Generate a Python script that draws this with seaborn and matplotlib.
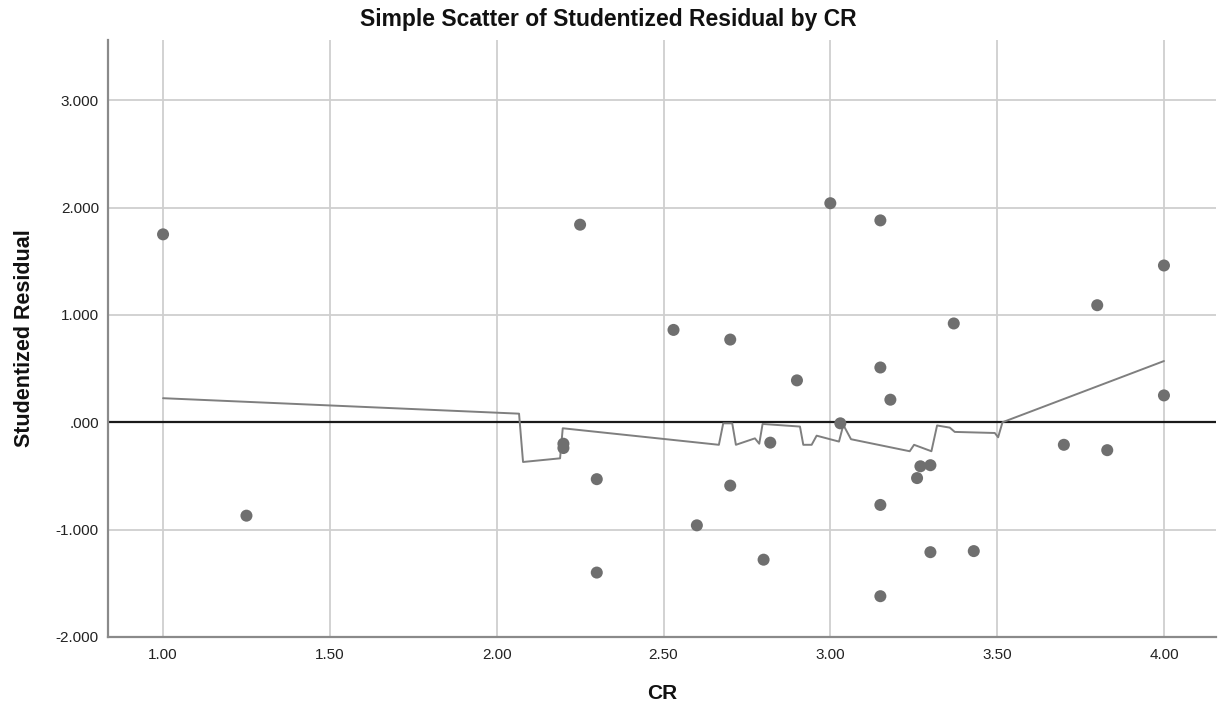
import matplotlib
matplotlib.use("Agg")
import matplotlib.pyplot as plt
import seaborn as sns
import pandas as pd

# Observations: CR score against studentized residual
cr = [1.00, 1.25, 2.20, 2.20, 2.25, 2.30, 2.30, 2.53, 2.60, 2.70, 2.70,
      2.80, 2.82, 2.90, 3.00, 3.03, 3.15, 3.15, 3.15, 3.15, 3.18, 3.26,
      3.27, 3.30, 3.30, 3.37, 3.43, 3.70, 3.80, 3.83, 4.00, 4.00]
resid = [1.75, -0.87, -0.20, -0.24, 1.84, -0.53, -1.40, 0.86, -0.96, 0.77, -0.59,
         -1.28, -0.19, 0.39, 2.04, -0.01, 1.88, 0.51, -0.77, -1.62, 0.21, -0.52,
         -0.41, -0.40, -1.21, 0.92, -1.20, -0.21, 1.09, -0.26, 1.46, 0.25]

# Fit line through the residuals
fit_x = [1.000, 2.067, 2.079, 2.190, 2.198, 2.666, 2.679, 2.706, 2.717, 2.774,
         2.787, 2.797, 2.909, 2.919, 2.944, 2.959, 3.026, 3.039, 3.062, 3.238,
         3.251, 3.303, 3.320, 3.358, 3.373, 3.493, 3.503, 3.516, 4.000]
fit_y = [0.224, 0.080, -0.370, -0.336, -0.056, -0.210, -0.010, -0.010, -0.210, -0.150,
         -0.200, -0.016, -0.040, -0.210, -0.210, -0.125, -0.180, -0.025, -0.158, -0.270,
         -0.210, -0.270, -0.030, -0.050, -0.090, -0.100, -0.140, 0.000, 0.570]

x_ticks = [1.00, 1.50, 2.00, 2.50, 3.00, 3.50, 4.00]
x_tick_labels = ["1.00", "1.50", "2.00", "2.50", "3.00", "3.50", "4.00"]
y_ticks = [-2, -1, 0, 1, 2, 3]
y_tick_labels = ["-2.000", "-1.000", ".000", "1.000", "2.000", "3.000"]

sns.set_style("white")
plt.rcParams["font.family"] = ["Liberation Sans", "DejaVu Sans"]

fig = plt.figure(figsize=(12.26, 7.13), dpi=100)
ax = fig.add_axes([108 / 1226, 1 - 637 / 713, (1216 - 108) / 1226, (637 - 40) / 713])

points = pd.DataFrame({"CR": cr, "Studentized Residual": resid})
fit = pd.DataFrame({"CR": fit_x, "Studentized Residual": fit_y})

ax.set_xlim(0.835, 4.156)
ax.set_ylim(-2.0, 3.56)

ax.set_xticks(x_ticks)
ax.set_xticklabels(x_tick_labels)
ax.set_yticks(y_ticks)
ax.set_yticklabels(y_tick_labels)
ax.grid(True, color="#cfcfcf", linewidth=1.3)
ax.set_axisbelow(True)

ax.axhline(0, color="#1a1a1a", linewidth=1.6, zorder=2)

sns.lineplot(data=fit, x="CR", y="Studentized Residual", sort=False,
             estimator=None, color="#7f7f7f", linewidth=1.4, ax=ax, zorder=3)
sns.scatterplot(data=points, x="CR", y="Studentized Residual", s=75,
                color="#6f6f6f", edgecolor="none", ax=ax, zorder=4)

for side in ["top", "right"]:
    ax.spines[side].set_visible(False)
for side in ["left", "bottom"]:
    ax.spines[side].set_color("#8a8a8a")
    ax.spines[side].set_linewidth(1.6)

ax.tick_params(axis="both", length=0, labelsize=11, colors="#222222")
ax.tick_params(axis="x", pad=8)
ax.tick_params(axis="y", pad=6.5)

ax.set_xlabel("CR", fontsize=15, fontweight="bold", color="#111111", labelpad=16)
ax.set_ylabel("Studentized Residual", fontsize=15.5, fontweight="bold", color="#111111", labelpad=15)

# Chart title, centred on the whole figure
fig.text(0.496, 1 - 26 / 713, "Simple Scatter of Studentized Residual by CR",
         fontsize=16.5, fontweight="bold", color="#111111", ha="center", va="baseline")

fig.savefig("out.png", dpi=100)
